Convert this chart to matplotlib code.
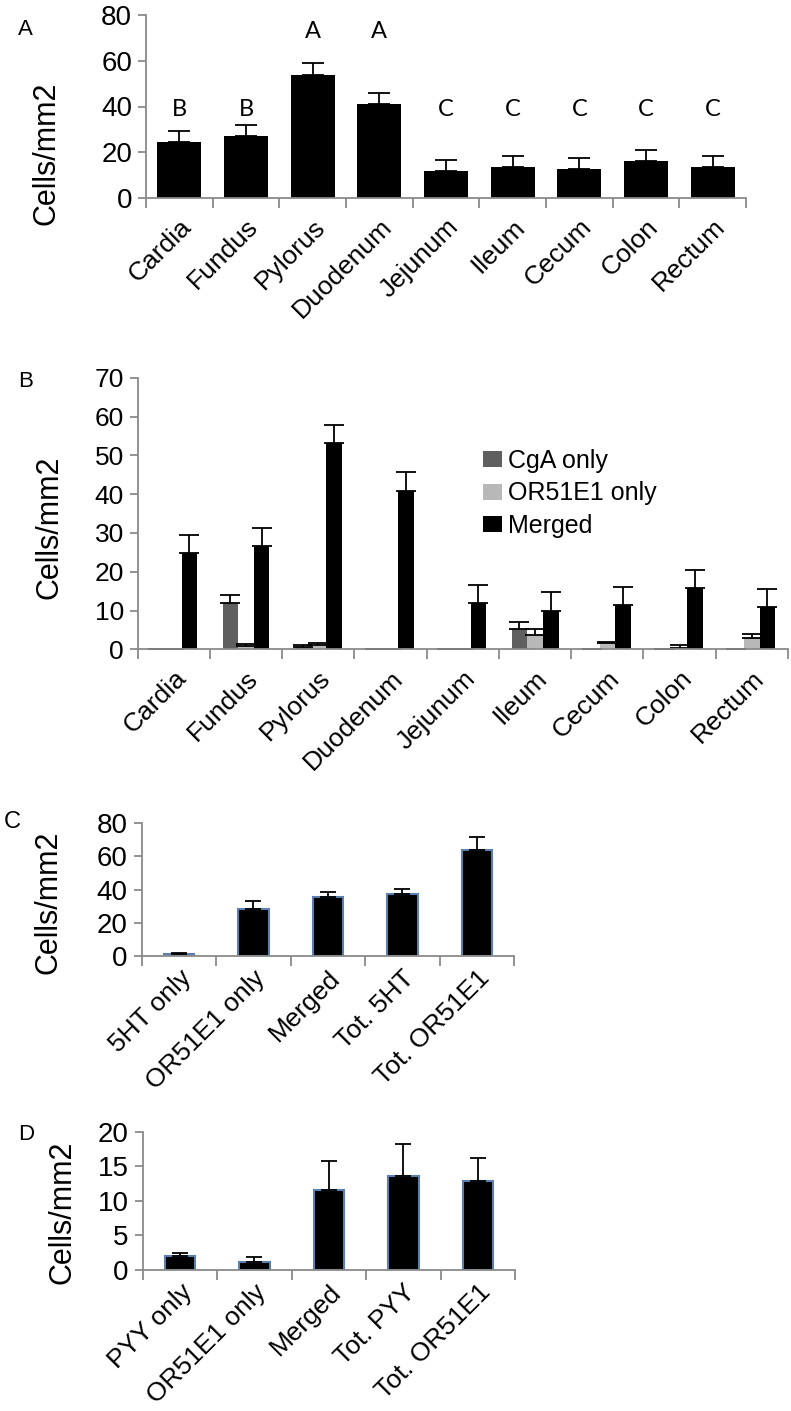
import numpy as np
import matplotlib
matplotlib.use("Agg")
import matplotlib.pyplot as plt

plt.rcParams['font.family'] = ['Liberation Sans', 'DejaVu Sans']

# Panel A data
regions = ['Cardia', 'Fundus', 'Pylorus', 'Duodenum', 'Jejunum', 'Ileum', 'Cecum', 'Colon', 'Rectum']
a_mean = [24.6, 27.1, 53.9, 41.0, 11.8, 13.7, 12.8, 16.0, 13.7]
a_err = [4.8, 4.8, 5.0, 5.0, 4.8, 4.8, 4.8, 4.8, 4.8]
a_letters = ['B', 'B', 'A', 'A', 'C', 'C', 'C', 'C', 'C']
a_letter_y = [38.5, 38.5, 72.7, 72.7, 38.5, 38.5, 38.5, 38.5, 38.5]

# Panel B data
cga_only = [0.15, 12.0, 0.5, 0.15, 0.0, 5.2, 0.0, 0.0, 0.0]
cga_err = [0.0, 2.1, 0.7, 0.0, 0.0, 1.8, 0.0, 0.0, 0.0]
or_only = [0.15, 0.86, 1.2, 0.15, 0.0, 3.6, 1.5, 0.4, 2.8]
or_err = [0.0, 0.45, 0.4, 0.0, 0.0, 1.6, 0.3, 0.7, 1.2]
merged = [24.8, 26.5, 53.1, 40.9, 11.9, 10.0, 11.4, 15.7, 10.8]
merged_err = [4.7, 4.8, 4.7, 4.7, 4.8, 4.7, 4.7, 4.7, 4.8]

# Panel C data
c_labels = ['5HT only', 'OR51E1 only', 'Merged', 'Tot. 5HT', 'Tot. OR51E1']
c_mean = [1.4, 28.1, 35.3, 37.1, 63.6]
c_err = [0.6, 5.2, 3.0, 3.0, 7.6]

# Panel D data
d_labels = ['PYY only', 'OR51E1 only', 'Merged', 'Tot. PYY', 'Tot. OR51E1']
d_mean = [2.02, 1.16, 11.6, 13.6, 12.8]
d_err = [0.48, 0.72, 4.2, 4.6, 3.4]

W, H = 791, 1411
fig = plt.figure(figsize=(W / 100, H / 100), dpi=100)


def axes_px(left, top, right, bottom):
    return fig.add_axes([left / W, 1 - bottom / H, (right - left) / W, (bottom - top) / H])


def style(ax, n, ymax, step, tick_size, xpad=12):
    for s in ['top', 'right']:
        ax.spines[s].set_visible(False)
    for s in ['left', 'bottom']:
        ax.spines[s].set_color('#8a8a8a')
        ax.spines[s].set_linewidth(1.3)
    ax.set_xlim(-0.5, n - 0.5)
    ax.set_ylim(0, ymax)
    ax.set_yticks(np.arange(0, ymax + 1, step))
    ax.tick_params(axis='y', length=6, width=1.3, color='#8a8a8a', labelsize=tick_size, pad=4)
    ax.set_xticks(np.arange(n))
    ax.set_xticks(np.arange(n + 1) - 0.5, minor=True)
    ax.tick_params(axis='x', which='major', length=0, pad=xpad)
    ax.tick_params(axis='x', which='minor', length=7, width=1.3, color='#8a8a8a')


def err_kw(cap):
    return dict(ecolor='black', elinewidth=1.3, capsize=cap, capthick=1.3)


# ---- Panel A
axA = axes_px(146, 15, 746, 198)
x = np.arange(len(regions))
axA.bar(x, a_mean, width=0.66, color='black',
        yerr=[np.zeros(len(a_err)), a_err], error_kw=err_kw(8))
style(axA, len(regions), 80, 20, 20)
axA.set_xticklabels(regions, rotation=45, ha='right', rotation_mode='anchor', fontsize=19)
for xi, lt, ly in zip(x, a_letters, a_letter_y):
    axA.text(xi, ly, lt, ha='center', va='center', fontsize=17, family='Lato')

# ---- Panel B
axB = axes_px(137.7, 377.7, 788, 649.3)
bw = 0.216
axB.bar(x - bw, cga_only, width=bw, color='#5f5f5f', label='CgA only',
        yerr=[np.zeros(9), cga_err], error_kw=err_kw(7))
axB.bar(x, or_only, width=bw, color='#b8b8b8', label='OR51E1 only',
        yerr=[np.zeros(9), or_err], error_kw=err_kw(7))
axB.bar(x + bw, merged, width=bw, color='black', label='Merged',
        yerr=[np.zeros(9), merged_err], error_kw=err_kw(7))
style(axB, len(regions), 70, 10, 19)
axB.set_xticklabels(regions, rotation=45, ha='right', rotation_mode='anchor', fontsize=19)
axB.legend(loc='center left', bbox_to_anchor=(0.531, 0.574), frameon=False, fontsize=18,
           borderpad=0, borderaxespad=0, handlelength=0.75, handleheight=0.6,
           handletextpad=0.25, labelspacing=0.35)

# ---- Panel C
axC = axes_px(141.7, 822.7, 514, 956.3)
xc = np.arange(len(c_labels))
axC.bar(xc, c_mean, width=0.41, color='black', edgecolor='#5b7fae', linewidth=1.5,
        yerr=[np.zeros(5), c_err], error_kw=err_kw(6))
style(axC, len(c_labels), 80, 20, 20, xpad=7)
axC.set_xticklabels(c_labels, rotation=45, ha='right', rotation_mode='anchor', fontsize=19)

# ---- Panel D
axD = axes_px(142.7, 1131.7, 515, 1270)
axD.bar(xc, d_mean, width=0.41, color='black', edgecolor='#5b7fae', linewidth=1.5,
        yerr=[np.zeros(5), d_err], error_kw=err_kw(6))
style(axD, len(d_labels), 20, 5, 20, xpad=7)
axD.set_xticklabels(d_labels, rotation=45, ha='right', rotation_mode='anchor', fontsize=19)

# y labels and panel letters
for xp, yp in [(47, 153), (50, 527), (48, 902), (62, 1212)]:
    fig.text(xp / W, 1 - yp / H, 'Cells/mm2', rotation=90, ha='center', va='center', fontsize=22)
for lt, xp, yp, fs in [('A', 18, 19, 16), ('B', 18, 371, 16), ('C', 4, 811, 17), ('D', 18, 1124, 16)]:
    fig.text(xp / W, 1 - yp / H, lt, ha='left', va='top', fontsize=fs)

fig.savefig('out.png', dpi=100)
